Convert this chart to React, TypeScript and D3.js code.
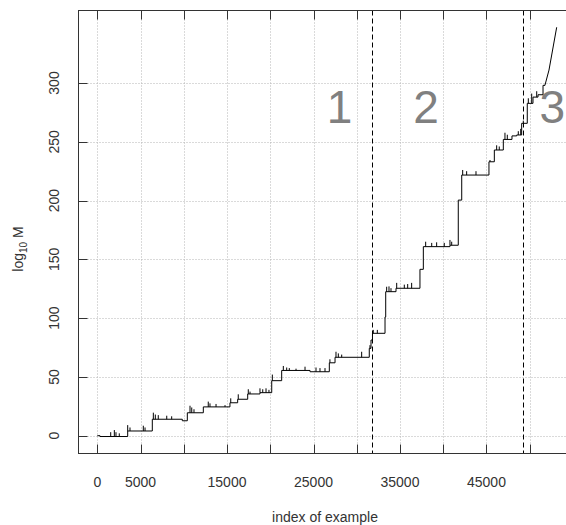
import React from "react";
import * as d3 from "d3";

// step levels: example index where a level starts, and log10 M of that level
const stepX = [0, 312, 3515, 6360, 9830, 10410, 12260, 15340, 16230, 17390, 18810, 20170, 21320, 24600, 26830, 27490, 31450, 31650, 31820, 33270, 33350, 34540, 37310, 37700, 40780, 41740, 42140, 45290, 45910, 46950, 47950, 48500, 49070, 49720, 50380, 50960, 51540];
const stepY = [0, -0.7, 4, 14, 12.7, 19.5, 24.5, 28, 31, 35.5, 36.6, 46.8, 55.5, 54.4, 62, 66.7, 74.3, 81.4, 87.1, 101, 122.5, 125.4, 141.5, 160.8, 162, 200.4, 221.7, 233, 243, 252, 255, 255.8, 265.7, 282.7, 288, 290, 298];

// final rising part
const tailX = [51770, 52230, 53120];
const tailY = [298.3, 311, 347.4];

// short upward spikes along the steps
const spikeX = [1550, 1970, 2160, 2540, 3515, 3780, 5320, 5520, 6480, 6710, 7050, 8030, 8600, 10720, 10920, 11180, 12830, 13030, 13730, 14770, 15430, 16300, 17460, 17660, 18810, 19130, 19510, 19850, 20240, 21510, 21900, 22200, 22980, 24020, 25290, 25750, 26330, 26900, 27600, 27870, 28260, 30570, 31530, 31910, 32380, 33460, 33730, 33960, 34620, 35500, 35890, 36350, 37970, 38670, 39240, 40120, 40780, 40980, 42250, 42710, 43790, 45410, 46180, 46480, 47140, 47410, 48680, 48960, 49260, 49840, 50230, 50810];
const spikeTop = [3, 4.8, 3, 2, 9, 7, 8.5, 7, 19.6, 18, 17.5, 17, 16.5, 25.5, 24, 22.5, 29, 27.5, 27, 26, 31.8, 35.2, 39.5, 37.5, 40.3, 39.5, 40.3, 39, 52, 59.3, 58, 57.5, 57, 58.7, 58, 57.5, 57.5, 65, 71.4, 70, 69, 71.4, 77, 90, 90, 126.7, 127, 125.5, 130, 128.5, 129, 130, 165, 164, 164.5, 164, 166.5, 165, 226, 225, 225, 234.5, 247, 246, 257.7, 256, 259, 261, 268, 287, 291, 293];

const phaseBreaks = [31760, 49260];
const phaseLabels = ["1", "2", "3"];
const phaseLabelX = [28000, 38000, 52600];

const xTicks = d3.range(0, 55001, 5000);
const xLabels = [0, 5000, 15000, 25000, 35000, 45000];
const yTicks = [0, 50, 100, 150, 200, 250, 300];

const W = 566;
const H = 525;
const left = 78.5;
const top = 10.5;
const bottom = 453.5;
const right = 580;

export default function App() {
  const x = d3.scaleLinear().domain([0, 50000]).range([97.3, 529.7]);
  const y = d3.scaleLinear().domain([0, 300]).range([435.7, 83]);

  const pts: [number, number][] = [];
  stepX.forEach((sx, i) => {
    pts.push([sx, stepY[i]]);
    const nx = i < stepX.length - 1 ? stepX[i + 1] : tailX[0];
    pts.push([nx, stepY[i]]);
  });
  tailX.forEach((tx, i) => pts.push([tx, tailY[i]]));

  const line = d3
    .line<[number, number]>()
    .x((d) => x(d[0]))
    .y((d) => y(d[1]));

  const levelAt = (v: number) => {
    const i = d3.bisectRight(stepX, v) - 1;
    return stepY[Math.max(0, i)];
  };

  const font = "'Liberation Sans', Arial, sans-serif";
  const tickLen = 9;

  return (
    <svg
      width={W}
      height={H}
      style={{ position: "absolute", left: 0, top: 0, background: "#fff" }}
      fontFamily={font}
    >
      {/* grid */}
      <g stroke="#b4b4b4" strokeWidth={1} strokeDasharray="1,2">
        {xTicks.map((t) => (
          <line key={"gx" + t} x1={Math.round(x(t)) + 0.5} x2={Math.round(x(t)) + 0.5} y1={top} y2={bottom} />
        ))}
        {yTicks.map((t) => (
          <line key={"gy" + t} x1={left} x2={right} y1={Math.round(y(t)) + 0.5} y2={Math.round(y(t)) + 0.5} />
        ))}
      </g>

      {/* phase boundaries */}
      <g stroke="#000" strokeWidth={1} strokeDasharray="5,3">
        {phaseBreaks.map((b) => (
          <line key={b} x1={Math.round(x(b)) + 0.5} x2={Math.round(x(b)) + 0.5} y1={top} y2={bottom} />
        ))}
      </g>

      {phaseLabels.map((l, i) => (
        <text key={l} x={x(phaseLabelX[i])} y={123} textAnchor="middle" fontSize={46} fill="#808080">
          {l}
        </text>
      ))}

      {/* data */}
      <path d={line(pts) || ""} fill="none" stroke="#000" strokeWidth={1} />
      <g stroke="#000" strokeWidth={1}>
        {spikeX.map((sx, i) => (
          <line key={"s" + i} x1={x(sx)} x2={x(sx)} y1={y(levelAt(sx))} y2={y(spikeTop[i])} />
        ))}
      </g>

      {/* frame and ticks */}
      <rect x={left} y={top} width={right - left} height={bottom - top} fill="none" stroke="#333" strokeWidth={1} />
      <g stroke="#333" strokeWidth={1}>
        {xTicks.map((t) => (
          <g key={"tx" + t}>
            <line x1={Math.round(x(t)) + 0.5} x2={Math.round(x(t)) + 0.5} y1={bottom} y2={bottom - tickLen} />
            <line x1={Math.round(x(t)) + 0.5} x2={Math.round(x(t)) + 0.5} y1={top} y2={top + tickLen} />
          </g>
        ))}
        {yTicks.map((t) => (
          <line key={"ty" + t} x1={left} x2={left + tickLen} y1={Math.round(y(t)) + 0.5} y2={Math.round(y(t)) + 0.5} />
        ))}
      </g>

      {/* tick labels */}
      <g fontSize={14} fill="#333">
        {xLabels.map((t) => (
          <text key={"lx" + t} x={x(t)} y={487} textAnchor="middle">
            {t}
          </text>
        ))}
        {yTicks.map((t) => (
          <text
            key={"ly" + t}
            transform={`translate(59,${y(t)}) rotate(-90)`}
            textAnchor="middle"
          >
            {t}
          </text>
        ))}
      </g>

      {/* axis titles */}
      <text x={325} y={522} textAnchor="middle" fontSize={14} fill="#333">
        index of example
      </text>
      <text transform="translate(23,249) rotate(-90)" textAnchor="middle" fontSize={14} fill="#333">
        log
        <tspan fontSize={10} dy={4}>10</tspan>
        <tspan dy={-4}> M</tspan>
      </text>
    </svg>
  );
}
